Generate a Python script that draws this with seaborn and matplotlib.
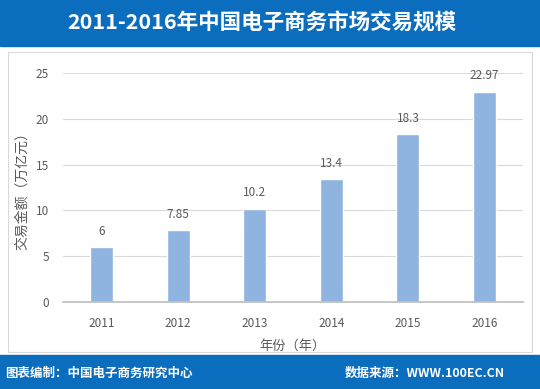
import matplotlib
matplotlib.use("Agg")
import matplotlib.pyplot as plt
import seaborn as sns
import pandas as pd
from matplotlib.patches import Rectangle

years = ["2011", "2012", "2013", "2014", "2015", "2016"]
values = [6, 7.85, 10.2, 13.4, 18.3, 22.97]
value_labels = ["6", "7.85", "10.2", "13.4", "18.3", "22.97"]

sns.set_theme(style="white")
plt.rcParams['font.family'] = ['Noto Sans CJK SC', 'DejaVu Sans']

df = pd.DataFrame({"year": years, "value": values})

fig = plt.figure(figsize=(5.4, 3.89), dpi=100)
W, H = 540, 389
blue = "#0b6dbd"

# header and footer bands
fig.patches.append(Rectangle((0, 1 - 46 / H), 1, 46 / H, transform=fig.transFigure, color=blue, zorder=0))
fig.patches.append(Rectangle((0, 0), 1, 34 / H, transform=fig.transFigure, color=blue, zorder=0))
# light frame around chart area
fig.patches.append(Rectangle((8 / W, 37 / H), 524 / W, 300 / H, transform=fig.transFigure,
                             fill=False, edgecolor="#d9d9d9", lw=0.8, zorder=0))

fig.text(0.485, 1 - 23 / H, "2011-2016年中国电子商务市场交易规模", color="white",
         fontsize=15.5, fontweight="bold", ha="center", va="center")
fig.text(5 / W, 16 / H, "图表编制：中国电子商务研究中心", color="white",
         fontsize=9, fontweight="bold", ha="left", va="center")
fig.text(345 / W, 16 / H, "数据来源：WWW.100EC.CN", color="white",
         fontsize=9, fontweight="bold", ha="left", va="center")

ax = fig.add_axes([63 / W, 1 - 302 / H, 460 / W, 229 / H])
sns.barplot(data=df, x="year", y="value", color="#8fb4e0", saturation=1, width=0.3, ax=ax)

ax.set_ylim(0, 25)
ax.set_xlim(-0.5, 5.5)
ax.set_yticks([0, 5, 10, 15, 20, 25])
ax.yaxis.grid(True, color="#d9d9d9", lw=0.8)
ax.set_axisbelow(True)
for s in ["top", "right", "left"]:
    ax.spines[s].set_visible(False)
ax.spines["bottom"].set_color("#bfbfbf")
ax.tick_params(axis="y", colors="#595959", labelsize=8.5, length=0, pad=10)
ax.tick_params(axis="x", colors="#595959", labelsize=8.5, length=0, pad=11)
ax.set_xticks([i - 0.5 for i in range(7)], minor=True)
ax.tick_params(axis="x", which="minor", length=4, color="#bfbfbf")

for i, (v, lab) in enumerate(zip(values, value_labels)):
    ax.text(i, v + 1.0, lab, ha="center", va="bottom", fontsize=8.5, color="#595959")

ax.set_xlabel("年份（年）", fontsize=9.5, color="#595959", labelpad=7)
ax.set_ylabel("交易金额（万亿元）", fontsize=10, color="#595959")
ax.yaxis.set_label_coords(-0.073, 0.5)

fig.savefig("out.png", dpi=100)
